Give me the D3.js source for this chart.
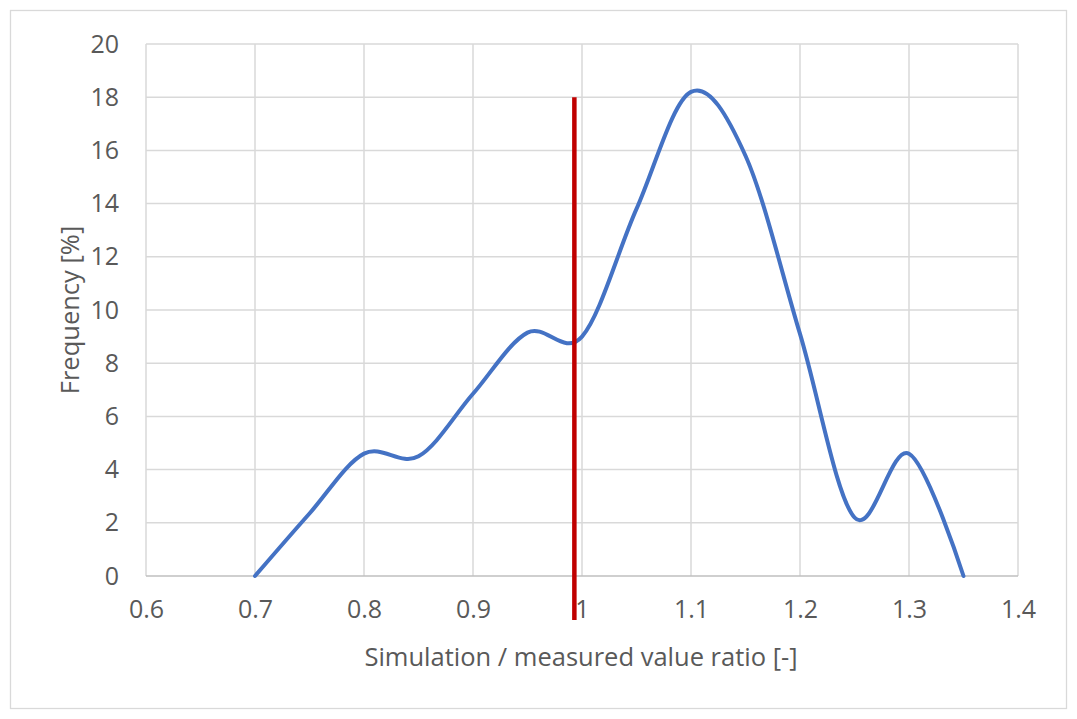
<!DOCTYPE html>
<html>
<head>
<meta charset="utf-8">
<script src="https://cdn.jsdelivr.net/npm/d3@7"></script>
<style>
  body { margin: 0; background: #fff; }
  text { font-family: "Open Sans", "Liberation Sans", sans-serif; fill: #595959; }
</style>
</head>
<body>
<div id="chart"></div>
<script>
// data
const ratios = [0.7, 0.75, 0.8, 0.85, 0.9, 0.95, 1.0, 1.05, 1.1, 1.15, 1.2, 1.25, 1.3, 1.35];
const frequency = [0, 2.35, 4.6, 4.5, 6.85, 9.15, 9.0, 13.8, 18.2, 15.8, 9.1, 2.2, 4.6, 0];
const markerX = [0.993, 0.993];
const markerY = [-1.65, 18];
const xTicks = [0.6, 0.7, 0.8, 0.9, 1, 1.1, 1.2, 1.3, 1.4];
const yTicks = [0, 2, 4, 6, 8, 10, 12, 14, 16, 18, 20];

const W = 1077, H = 719;
const margin = {top: 44, right: 59, bottom: 143, left: 146};
const width = W - margin.left - margin.right;
const height = H - margin.top - margin.bottom;

const svg = d3.select("#chart")
    .append("svg")
    .attr("width", W)
    .attr("height", H);

// outer chart border
svg.append("rect")
    .attr("x", 10.5).attr("y", 10.5)
    .attr("width", 1056).attr("height", 698)
    .attr("fill", "none")
    .attr("stroke", "#d9d9d9")
    .attr("stroke-width", 1.3);

const g = svg.append("g")
    .attr("transform", "translate(" + margin.left + "," + margin.top + ")");

const x = d3.scaleLinear().domain([0.6, 1.4]).range([0, width]);
const y = d3.scaleLinear().domain([0, 20]).range([height, 0]);

// gridlines
g.selectAll(".hgrid")
    .data(yTicks.filter(d => d > 0))
    .enter().append("line")
    .attr("x1", 0).attr("x2", width)
    .attr("y1", d => y(d)).attr("y2", d => y(d))
    .attr("stroke", "#d9d9d9").attr("stroke-width", 1.5);

g.selectAll(".vgrid")
    .data(xTicks)
    .enter().append("line")
    .attr("x1", d => x(d)).attr("x2", d => x(d))
    .attr("y1", 0).attr("y2", height)
    .attr("stroke", "#d9d9d9").attr("stroke-width", 1.5);

// x axis line
g.append("line")
    .attr("x1", 0).attr("x2", width)
    .attr("y1", height).attr("y2", height)
    .attr("stroke", "#bfbfbf").attr("stroke-width", 1.5);

// tick labels
const xAxis = g.append("g")
    .attr("transform", "translate(0," + height + ")")
    .call(d3.axisBottom(x).tickValues(xTicks).tickSize(0).tickPadding(24).tickFormat(d3.format("")));
xAxis.select(".domain").remove();
xAxis.selectAll("text").style("font-size", "25px").attr("fill", "#595959");

const yAxis = g.append("g")
    .call(d3.axisLeft(y).tickValues(yTicks).tickSize(0).tickPadding(27));
yAxis.select(".domain").remove();
yAxis.selectAll("text").style("font-size", "25px").attr("fill", "#595959");

// frequency curve
const pts = ratios.map((r, i) => [r, frequency[i]]);
g.append("path")
    .datum(pts)
    .attr("fill", "none")
    .attr("stroke", "#4472C4")
    .attr("stroke-width", 4)
    .attr("stroke-linecap", "round")
    .attr("d", d3.line()
        .x(d => x(d[0]))
        .y(d => y(d[1]))
        .curve(d3.curveCatmullRom.alpha(0)));

// red marker line
g.append("path")
    .datum(markerX.map((v, i) => [v, markerY[i]]))
    .attr("fill", "none")
    .attr("stroke", "#C00000")
    .attr("stroke-width", 4.5)
    .attr("d", d3.line().x(d => x(d[0])).y(d => y(d[1])));

// axis titles
svg.append("text")
    .attr("text-anchor", "middle")
    .attr("x", 581)
    .attr("y", 666)
    .style("font-size", "25.5px")
    .text("Simulation / measured value ratio [-]");

svg.append("text")
    .attr("text-anchor", "middle")
    .attr("transform", "translate(79,310) rotate(-90)")
    .style("font-size", "25.5px")
    .text("Frequency [%]");
</script>
</body>
</html>
